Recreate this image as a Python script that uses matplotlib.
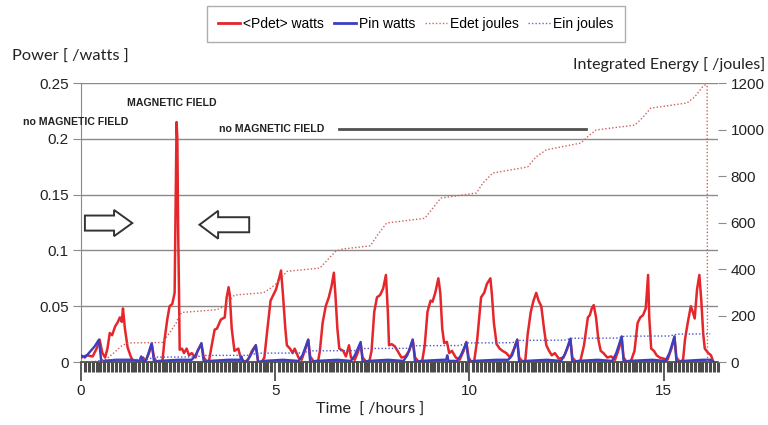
import matplotlib
matplotlib.use("Agg")
import matplotlib.pyplot as plt
from matplotlib.patches import FancyArrow
from matplotlib.ticker import MultipleLocator
from matplotlib.lines import Line2D

plt.rcParams["font.family"] = ["Liberation Sans", "DejaVu Sans"]

# <Pdet> watts (red, solid)
t_pdet = [
    0.0, 0.15, 0.3, 0.4, 0.48, 0.55, 0.62, 0.68, 0.74, 0.8, 0.88, 0.95, 1.0, 1.05, 1.08, 1.13, 1.2, 1.28,
    1.35, 1.5, 1.6, 1.65, 1.75, 1.82, 1.88, 1.95, 2.05,
    2.1, 2.15, 2.22, 2.28, 2.35, 2.41, 2.43, 2.46, 2.48, 2.5, 2.52, 2.54, 2.6, 2.65, 2.72, 2.78, 2.85,
    2.95, 3.0, 3.1, 3.16, 3.25, 3.3,
    3.35, 3.44, 3.5, 3.6, 3.7, 3.75, 3.8, 3.83, 3.88, 3.95, 4.05, 4.1, 4.2, 4.3, 4.4, 4.5, 4.56, 4.65,
    4.72, 4.8, 4.88, 4.95, 5.02, 5.1, 5.15, 5.2, 5.26, 5.3, 5.38, 5.45, 5.5, 5.6, 5.68, 5.78, 5.85, 5.9,
    6.0, 6.1,
    6.15, 6.22, 6.3, 6.38, 6.45, 6.51, 6.55, 6.6, 6.65, 6.75, 6.82, 6.9, 6.95, 7.05, 7.12, 7.2, 7.25,
    7.35, 7.42,
    7.48, 7.55, 7.62, 7.7, 7.78, 7.85, 7.9, 7.93, 8.0, 8.08, 8.15, 8.25, 8.35, 8.45, 8.54, 8.6, 8.7, 8.78,
    8.85, 8.92, 9.0, 9.05, 9.12, 9.2, 9.25, 9.3, 9.35, 9.42, 9.48, 9.55, 9.65, 9.75, 9.85, 9.92, 9.98,
    10.05, 10.12,
    10.2, 10.3, 10.38, 10.45, 10.54, 10.58, 10.63, 10.7, 10.78, 10.85, 10.95, 11.05, 11.15, 11.23,
    11.28, 11.38, 11.44,
    11.5, 11.58, 11.65, 11.72, 11.78, 11.85, 11.92, 11.98, 12.05, 12.12, 12.2, 12.3, 12.42, 12.52,
    12.6, 12.65, 12.75, 12.85,
    12.95, 13.05, 13.1, 13.15, 13.2, 13.26, 13.32, 13.38, 13.45, 13.55, 13.65, 13.75, 13.85, 13.92,
    13.97, 14.05, 14.15,
    14.25, 14.33, 14.4, 14.47, 14.54, 14.6, 14.63, 14.68, 14.75, 14.82, 14.9, 15.0, 15.1, 15.2, 15.28,
    15.33, 15.42, 15.5,
    15.55, 15.62, 15.7, 15.75, 15.8, 15.86, 15.92, 15.97, 16.02, 16.06, 16.15, 16.22, 16.28,
]
pdet = [
    0.004, 0.006, 0.005, 0.012, 0.020, 0.008, 0.004, 0.012, 0.026, 0.024, 0.032, 0.036, 0.040, 0.036,
    0.048, 0.030, 0.013, 0.005,
    0.000, 0.000, 0.004, 0.000, 0.008, 0.016, 0.004, 0.000, 0.000,
    0.002, 0.020, 0.038, 0.050, 0.052, 0.062, 0.120, 0.215, 0.200, 0.120, 0.070, 0.011, 0.012, 0.008,
    0.012, 0.006, 0.008,
    0.004, 0.010, 0.016, 0.004, 0.000, 0.002,
    0.012, 0.029, 0.030, 0.038, 0.040, 0.058, 0.067, 0.060, 0.030, 0.010, 0.012, 0.005, 0.000, 0.002,
    0.010, 0.015, 0.000, 0.000,
    0.004, 0.030, 0.055, 0.060, 0.065, 0.075, 0.082, 0.060, 0.030, 0.015, 0.012, 0.008, 0.012, 0.004,
    0.002, 0.012, 0.020, 0.005,
    0.000, 0.000,
    0.010, 0.035, 0.050, 0.058, 0.068, 0.080, 0.060, 0.030, 0.012, 0.010, 0.005, 0.015, 0.004, 0.002,
    0.008, 0.016, 0.004,
    0.000, 0.000,
    0.010, 0.045, 0.058, 0.060, 0.066, 0.078, 0.045, 0.015, 0.016, 0.014, 0.010, 0.004, 0.005, 0.010,
    0.020, 0.004, 0.000, 0.000,
    0.015, 0.045, 0.055, 0.054, 0.062, 0.075, 0.062, 0.030, 0.017, 0.018, 0.008, 0.010, 0.004, 0.002,
    0.010, 0.018, 0.004,
    0.000, 0.000,
    0.020, 0.058, 0.062, 0.070, 0.075, 0.060, 0.035, 0.016, 0.012, 0.010, 0.008, 0.004, 0.012, 0.020,
    0.004, 0.000, 0.002,
    0.025, 0.045, 0.055, 0.062, 0.055, 0.050, 0.030, 0.015, 0.010, 0.006, 0.008, 0.003, 0.004, 0.012,
    0.020, 0.004, 0.000, 0.000,
    0.015, 0.040, 0.042, 0.048, 0.051, 0.040, 0.020, 0.010, 0.008, 0.004, 0.005, 0.002, 0.012, 0.022,
    0.004, 0.000, 0.000,
    0.010, 0.035, 0.040, 0.042, 0.048, 0.078, 0.040, 0.012, 0.010, 0.006, 0.004, 0.003, 0.002, 0.012,
    0.022, 0.004, 0.000, 0.002,
    0.020, 0.035, 0.050, 0.045, 0.039, 0.065, 0.078, 0.055, 0.025, 0.012, 0.008, 0.006, 0.000,
]

# Pin watts (blue, solid)
t_pin = [
    0.0, 0.1, 0.25, 0.35, 0.46, 0.52, 0.6, 0.9, 1.3, 1.5, 1.55, 1.6, 1.65, 1.7, 1.82, 1.88, 2.0, 2.5,
    2.85, 2.95, 3.1, 3.16, 3.3, 3.8, 4.1, 4.13, 4.16, 4.25, 4.35, 4.5, 4.56, 4.7, 5.2, 5.6, 5.7, 5.85,
    5.9, 6.05, 6.6, 6.95, 7.05, 7.2, 7.25, 7.4, 7.9, 8.3, 8.4, 8.54, 8.6, 8.75, 9.3, 9.4, 9.43, 9.46,
    9.68, 9.78, 9.92, 9.98, 10.1, 10.7, 11.0, 11.1, 11.23, 11.28, 11.45, 12.0, 12.36, 12.46, 12.6,
    12.65, 12.8, 13.3, 13.68, 13.78, 13.92, 13.97, 14.1, 14.7, 15.05, 15.15, 15.28, 15.33, 15.5, 16.0,
    16.2, 16.3,
]
pin = [
    0.006, 0.004, 0.010, 0.014, 0.020, 0.001, 0.001, 0.002, 0.002, 0.001, 0.005, 0.001, 0.000, 0.004,
    0.017, 0.000, 0.001, 0.002,
    0.002, 0.006, 0.017, 0.000, 0.001, 0.002, 0.002, 0.005, 0.001, 0.000, 0.005, 0.015, 0.000, 0.001,
    0.002, 0.001, 0.006, 0.020,
    0.000, 0.001, 0.002, 0.001, 0.006, 0.018, 0.000, 0.001, 0.002, 0.001, 0.006, 0.020, 0.000, 0.001,
    0.002, 0.002, 0.006, 0.001,
    0.001, 0.006, 0.017, 0.000, 0.001, 0.002, 0.002, 0.006, 0.020, 0.000, 0.001, 0.002, 0.001, 0.007,
    0.021,
    0.000, 0.001, 0.002, 0.001, 0.008, 0.023, 0.000, 0.001, 0.002, 0.001, 0.008, 0.023, 0.000, 0.001,
    0.002,
    0.002, 0.000,
]

# Edet joules (red, dotted, right axis)
t_edet = [
    0.0, 0.6, 0.87, 1.05, 1.2, 2.1, 2.3, 2.45, 2.5, 2.59, 3.5, 3.7, 3.95, 4.7, 4.9, 5.05, 5.3, 6.15,
    6.35, 6.55, 6.7, 7.45, 7.65, 7.87, 8.85, 9.05, 9.26, 10.18, 10.35, 10.6, 11.5, 11.7, 11.97, 12.87,
    13.05, 13.26, 14.26, 14.45, 14.67, 15.6, 15.8, 16.0, 16.08, 16.12, 16.13,
]
edet = [
    0, 5, 43, 70, 82, 84, 130, 168, 190, 213, 225, 240, 288, 298, 320, 340, 390, 404,
    440, 475, 485, 500, 550, 598, 618, 660, 705, 727, 770, 813, 839, 880, 912, 942,
    970, 998, 1019, 1050, 1092, 1114, 1140, 1183, 1192, 1190, 0,
]

# Ein joules (blue, dotted, right axis)
t_ein = [
    0.0, 0.35, 0.55, 1.7, 1.9, 2.95, 3.15, 4.35, 4.55, 5.7, 5.9, 7.05, 7.25, 8.4, 8.6, 9.75, 9.95,
    11.1, 11.3, 12.45, 12.65, 13.8, 14.0, 15.15, 15.35, 16.2,
]
ein = [
    0, 0, 10, 11, 21, 22, 28, 29, 38, 39, 48, 49, 58, 59, 70, 71, 82,
    83, 93, 94, 102, 103, 111, 112, 120, 121,
]

RED = "#e5262b"
BLUE = "#3b3fbf"
GRID = "#8a8a8a"
DARK = "#404040"

fig = plt.figure(figsize=(7.68, 4.25), dpi=100)
ax = fig.add_axes([0.1055, 0.1482, 0.8294, 0.6565])
ax2 = ax.twinx()

ax.plot(t_pdet, pdet, color=RED, lw=1.8, zorder=3)
ax.plot(t_pin, pin, color=BLUE, lw=1.7, zorder=4)
ax2.plot(t_edet, edet, color="#d0605c", lw=1.0, ls=(0, (1, 1.5)))
ax2.plot(t_ein, ein, color="#4a55c8", lw=1.0, ls=(0, (1, 1.5)))

ax.set_xlim(0, 16.4)
ax.set_ylim(0, 0.25)
ax2.set_ylim(0, 1200)
ax.set_yticks([0, 0.05, 0.1, 0.15, 0.2, 0.25])
ax.set_yticklabels(["0", "0.05", "0.1", "0.15", "0.2", "0.25"])
ax2.set_yticks([0, 200, 400, 600, 800, 1000, 1200])
ax.set_xticks([0, 5, 10, 15])
ax.xaxis.set_minor_locator(MultipleLocator(0.1))

ax.grid(axis="y", color=GRID, lw=1.0)
ax.set_axisbelow(True)
for a in (ax, ax2):
    a.spines["right"].set_visible(False)
    a.spines["top"].set_visible(False)
ax2.spines["left"].set_visible(False)
ax2.spines["bottom"].set_visible(False)
ax.spines["left"].set_color(GRID)
ax.spines["bottom"].set_color(DARK)
ax.spines["bottom"].set_linewidth(1.2)

ax.tick_params(axis="y", length=6, color=GRID, labelsize=11, pad=3, labelcolor="#222222")
ax.tick_params(axis="x", which="major", length=14, width=1.2, color=DARK, labelsize=11,
               labelcolor="#222222", pad=2)
ax.tick_params(axis="x", which="minor", length=7, width=2.2, color="#4a4a4a")
ax2.tick_params(axis="y", length=6, color=GRID, labelsize=11, pad=3, labelcolor="#222222")

# annotations
ax.text(2.33, 0.232, "MAGNETIC FIELD", fontsize=7.6, fontweight="bold", ha="center", va="center",
        color="#222222")
ax.text(-0.15, 0.215, "no MAGNETIC FIELD", fontsize=7.6, fontweight="bold", ha="center",
        va="center", color="#222222")
ax.text(4.9, 0.209, "no MAGNETIC FIELD", fontsize=7.6, fontweight="bold", ha="center",
        va="center", color="#222222")
ax.plot([6.64, 13.0], [0.209, 0.209], color="#505050", lw=2)

ax.add_patch(FancyArrow(0.1, 0.1245, 0.75, 0, width=0.0135, head_width=0.0235, head_length=0.47,
                        length_includes_head=False, fill=False, ec="#333333", lw=1.4, zorder=5))
ax.add_patch(FancyArrow(4.33, 0.1230, -0.8, 0, width=0.0135, head_width=0.0250, head_length=0.48,
                        length_includes_head=False, fill=False, ec="#333333", lw=1.4, zorder=5))

fig.text(12 / 768, 1 - 57 / 425, "Power [ /watts ]", fontsize=11.8, family=["Lato", "DejaVu Sans"],
         ha="left", va="center", color="#222222")
fig.text(765 / 768, 1 - 65 / 425, "Integrated Energy [ /joules]", fontsize=11.5,
         family=["Lato", "DejaVu Sans"], ha="right", va="center", color="#222222")
fig.text(370 / 768, 1 - 410 / 425, "Time  [ /hours ]", fontsize=11.5, family=["Lato", "DejaVu Sans"],
         ha="center", va="center", color="#222222")

handles = [
    Line2D([], [], color=RED, lw=2),
    Line2D([], [], color=BLUE, lw=2),
    Line2D([], [], color="#d0605c", lw=1, ls=(0, (1, 1.5))),
    Line2D([], [], color="#6a6ac0", lw=1, ls=(0, (1, 1.5))),
]
labels = ["<Pdet> watts", "Pin watts", "Edet joules", "Ein joules"]
leg = fig.legend(handles, labels, loc="center", bbox_to_anchor=(416 / 768, 1 - 24 / 425), ncol=4,
                 frameon=True, fancybox=False, handlelength=1.6, handletextpad=0.2,
                 columnspacing=0.7, borderpad=0.8,
                 prop={"family": ["Liberation Sans Narrow", "Liberation Sans"], "size": 10})
leg.get_frame().set_edgecolor("#999999")
leg.get_frame().set_linewidth(1.0)

fig.savefig("out.png", dpi=100)
